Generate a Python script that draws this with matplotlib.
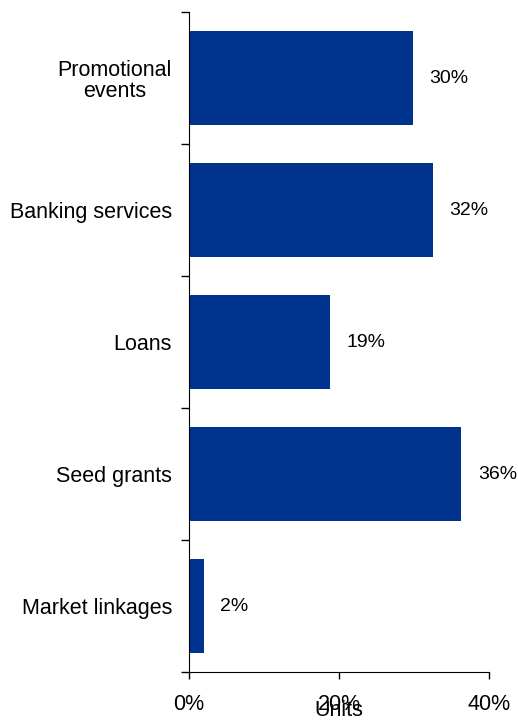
import matplotlib.pyplot as plt
import numpy as np
from matplotlib.ticker import FixedLocator

plt.rcParams["font.family"] = ["Liberation Sans", "DejaVu Sans"]

categories = ["Promotional\nevents", "Banking services", "Loans", "Seed grants", "Market linkages"]
values = [29.8, 32.5, 18.8, 36.3, 2.0]
valueLabels = ["30%", "32%", "19%", "36%", "2%"]
xTicks = [0, 20, 40]
xTickLabels = ["0%", "20%", "40%"]

barColor = "#00338D"
fontSize = 15.5

fig = plt.figure(figsize=(5.18, 7.23), dpi=100)
axis = fig.add_axes([0.3643, 0.0705, 0.5802, 0.9129])

positions = np.arange(len(categories))
axis.barh(positions, values, height=0.71, color=barColor, edgecolor="none")

for pos, val, lab in zip(positions, values, valueLabels):
    axis.text(val + 2.2, pos, lab, va="center", ha="left", fontsize=14)

axis.set_ylim(len(categories) - 0.5, -0.5)
axis.set_xlim(0, 40)

axis.set_yticks(positions)
axis.set_yticklabels(categories, fontsize=fontSize, linespacing=1.0, multialignment="center")
axis.tick_params(axis="y", which="major", length=0, pad=12)
axis.yaxis.set_minor_locator(FixedLocator(np.arange(len(categories) + 1) - 0.5))
axis.tick_params(axis="y", which="minor", length=6, width=1, direction="out")

axis.set_xticks(xTicks)
axis.set_xticklabels(xTickLabels, fontsize=fontSize)
axis.tick_params(axis="x", length=5, width=1, direction="out", pad=11)
axis.set_xlabel("Units", fontsize=fontSize, labelpad=-11)

axis.spines["top"].set_visible(False)
axis.spines["right"].set_visible(False)

fig.savefig("out.png", dpi=100)
